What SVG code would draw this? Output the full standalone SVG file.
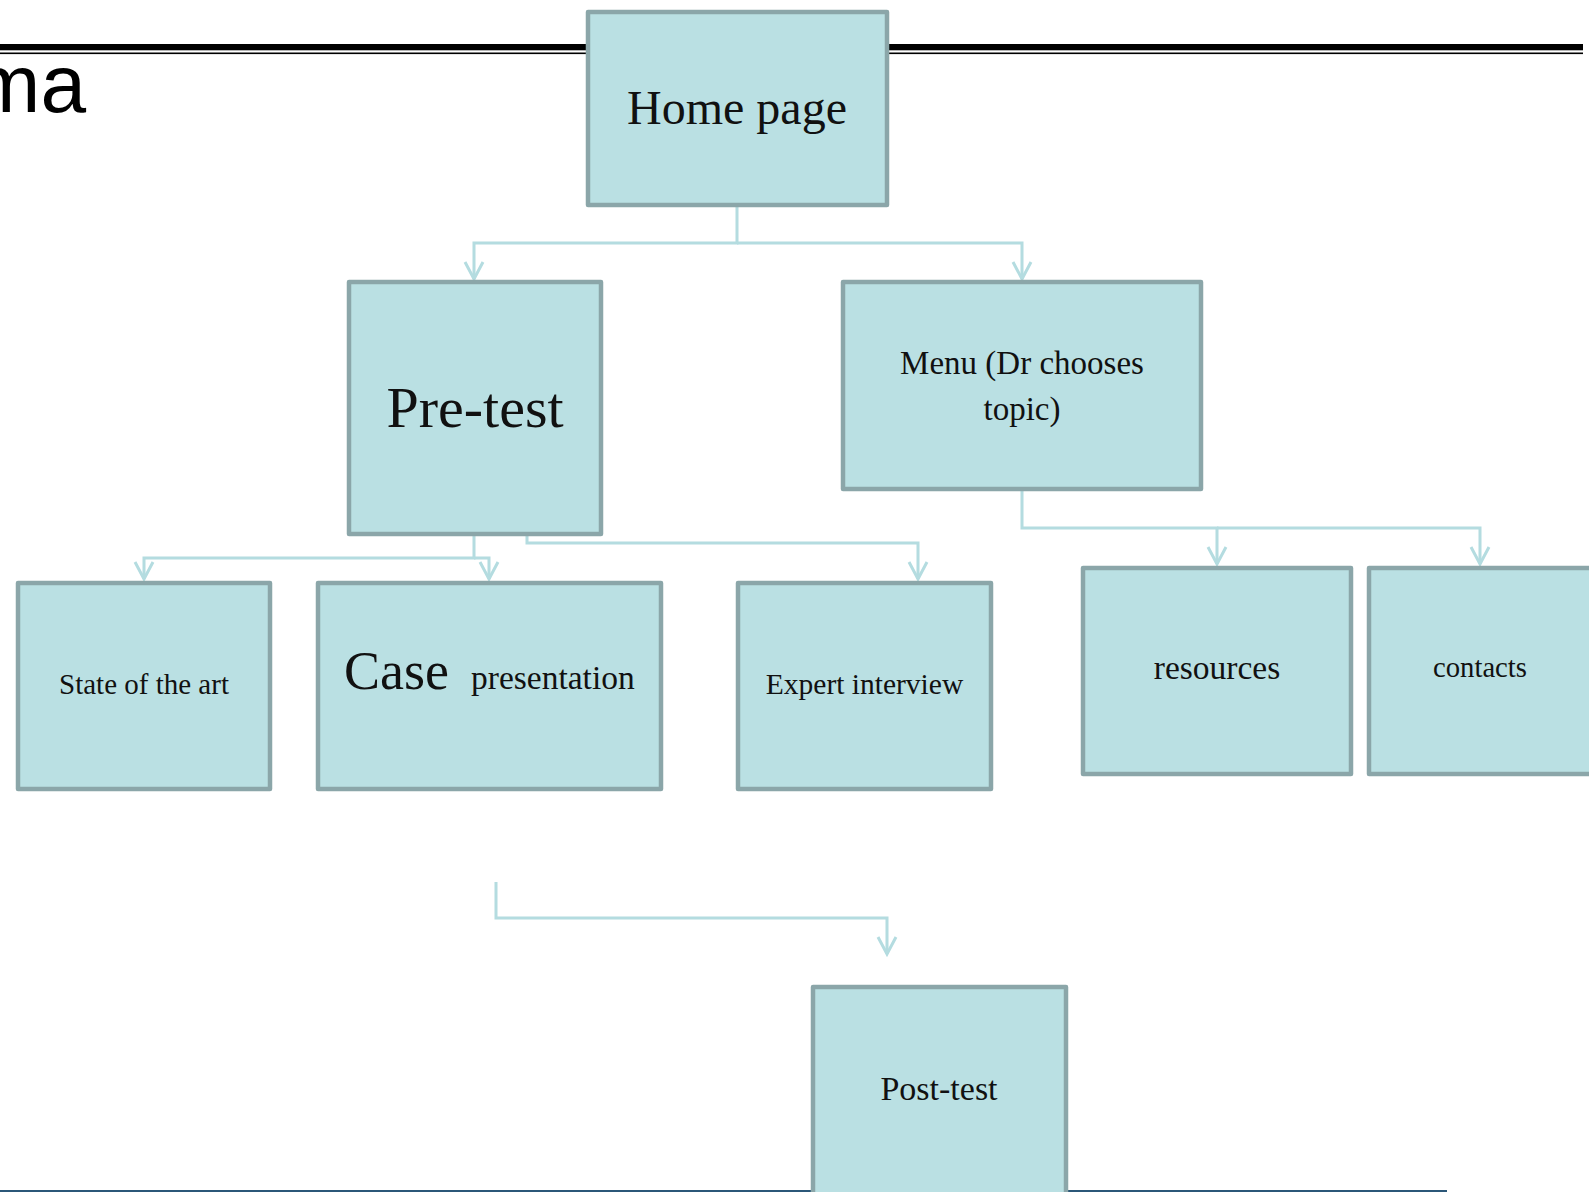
<svg xmlns="http://www.w3.org/2000/svg" width="1589" height="1192" viewBox="0 0 1589 1192">
<defs>
<style>
.box{fill:#BAE0E3;stroke:#8BA6A9;stroke-width:4.5;stroke-linejoin:round}
.lbl{font-family:"Liberation Serif","Times New Roman",serif;fill:#111;text-anchor:middle}
.con{fill:none;stroke:#B4DCE0;stroke-width:3;marker-end:url(#arr)}
</style>
<marker id="arr" markerUnits="userSpaceOnUse" markerWidth="40" markerHeight="40" refX="0" refY="0" orient="auto" overflow="visible">
<path d="M-17,-9 L0,0 L-17,9" fill="none" stroke="#B4DCE0" stroke-width="3"/>
</marker>
</defs>
<rect width="1589" height="1192" fill="#FFFFFF"/>
<g id="header">
<rect x="0" y="44" width="1583" height="6.3" fill="#000"/>
<rect x="0" y="52.5" width="1583" height="1.6" fill="#000"/>
<text x="86" y="112" font-family="Liberation Sans, Arial, sans-serif" font-size="82" text-anchor="end" fill="#000">ma</text>
<rect x="0" y="1190" width="1447" height="2.5" fill="#2B5778"/>
</g>
<g id="connectors">
<path class="con" d="M737,207 V243 H474 V279"/>
<path class="con" d="M737,243 H1022 V279"/>
<path class="con" d="M474,536 V558 H144 V579"/>
<path class="con" d="M474,558 H489 V579"/>
<path class="con" d="M527,507 V543 H918 V579"/>
<path class="con" d="M1022,491 V528 H1217 V564"/>
<path class="con" d="M1217,528 H1480 V564"/>
<path class="con" d="M496,882 V918 H887 V954"/>
</g>
<g id="home">
<rect class="box" x="588" y="12" width="299" height="193"/>
<text class="lbl" x="737" y="124" font-size="48">Home page</text>
</g>
<g id="pretest">
<rect class="box" x="349" y="282" width="252" height="252"/>
<text class="lbl" x="475" y="427" font-size="58">Pre-test</text>
</g>
<g id="menu">
<rect class="box" x="843" y="282" width="358" height="207"/>
<text class="lbl" x="1022" y="374" font-size="33">Menu (Dr chooses</text>
<text class="lbl" x="1022" y="420" font-size="33">topic)</text>
</g>
<g id="state">
<rect class="box" x="18" y="583" width="252" height="206"/>
<text class="lbl" x="144" y="694" font-size="29">State of the art</text>
</g>
<g id="case">
<rect class="box" x="318" y="583" width="343" height="206"/>
<text class="lbl" x="344" y="689" font-size="54" style="text-anchor:start">Case</text>
<text class="lbl" x="471" y="689" font-size="33.5" style="text-anchor:start">presentation</text>
</g>
<g id="expert">
<rect class="box" x="738" y="583" width="253" height="206"/>
<text class="lbl" x="864.5" y="694" font-size="29.5">Expert interview</text>
</g>
<g id="resources">
<rect class="box" x="1083" y="568" width="268" height="206"/>
<text class="lbl" x="1217" y="679" font-size="33.5">resources</text>
</g>
<g id="contacts">
<rect class="box" x="1369" y="568" width="260" height="206"/>
<text class="lbl" x="1480" y="677" font-size="28.7">contacts</text>
</g>
<g id="posttest">
<rect class="box" x="813" y="987" width="253" height="240"/>
<text class="lbl" x="939" y="1100" font-size="34">Post-test</text>
</g>
</svg>
